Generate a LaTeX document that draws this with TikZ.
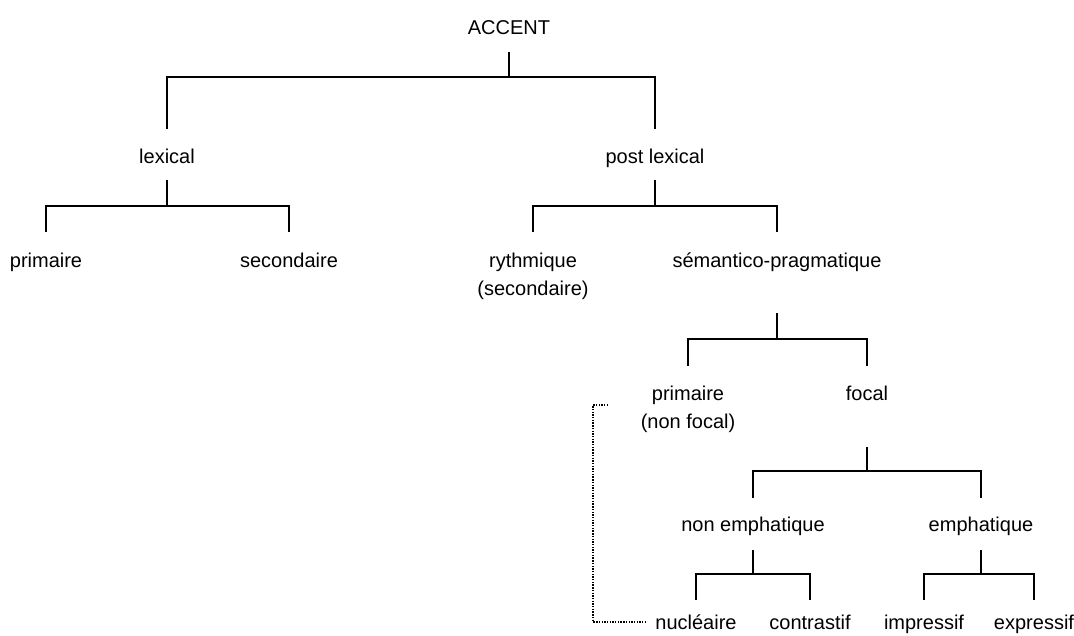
\documentclass[tikz,border=0pt]{standalone}
\usepackage{fontspec}
\setmainfont{Liberation Sans}
\usepackage{tikz}

\begin{document}
\begin{tikzpicture}[x=1pt,y=-1pt]
   \tikzstyle{label}=[font=\fontsize{20}{28}\selectfont,inner sep=0pt,anchor=base,align=center]
   \tikzstyle{branch}=[line width=1.8pt]
   \tikzstyle{dotline}=[line width=1.6pt,dash pattern=on 1.4pt off 1.3pt]
   \useasboundingbox (0,0) rectangle (1074,635);

   \node[label] (accent) at (509,34) {ACCENT};
   \node[label] (lex) at (167,163) {lexical};
   \node[label] (post) at (655,163) {post lexical};
   \node[label] (prim) at (46,267) {primaire};
   \node[label] (sec) at (289,267) {secondaire};
   \node[label] (ryth) at (533,295) {rythmique\\(secondaire)};
   \node[label] (sem) at (777,267) {sémantico-pragmatique};
   \node[label] (nf) at (688,428) {primaire\\(non focal)};
   \node[label] (focal) at (867,400) {focal};
   \node[label] (nonemph) at (753,531) {non emphatique};
   \node[label] (emph) at (981,531) {emphatique};
   \node[label] (nuc) at (696,629) {nucléaire};
   \node[label] (contr) at (810,629) {contrastif};
   \node[label] (impr) at (924,629) {impressif};
   \node[label] (expr) at (1034,629) {expressif};
   \coordinate (nftick) at (608,405);

   % tree
   \draw[branch] ([yshift=-18pt]accent.base) -- ++(0,25) -| ([yshift=34pt]lex.base);
   \draw[branch] ([yshift=-18pt]accent.base) -- ++(0,25) -| ([yshift=34pt]post.base);
   \draw[branch] ([yshift=-17pt]lex.base) -- ++(0,26) -| ([yshift=35pt]prim.base);
   \draw[branch] ([yshift=-17pt]lex.base) -- ++(0,26) -| ([yshift=35pt]sec.base);
   \draw[branch] ([yshift=-17pt]post.base) -- ++(0,26) -| ([yshift=63pt]ryth.base);
   \draw[branch] ([yshift=-17pt]post.base) -- ++(0,26) -| ([yshift=35pt]sem.base);
   \draw[branch] ([yshift=-46pt]sem.base) -- ++(0,26) -| ([yshift=62pt]nf.base);
   \draw[branch] ([yshift=-46pt]sem.base) -- ++(0,26) -| ([yshift=34pt]focal.base);
   \draw[branch] ([yshift=-47pt]focal.base) -- ++(0,24) -| ([yshift=33pt]nonemph.base);
   \draw[branch] ([yshift=-47pt]focal.base) -- ++(0,24) -| ([yshift=33pt]emph.base);
   \draw[branch] ([yshift=-19pt]nonemph.base) -- ++(0,24) -| ([yshift=29pt]nuc.base);
   \draw[branch] ([yshift=-19pt]nonemph.base) -- ++(0,24) -| ([yshift=29pt]contr.base);
   \draw[branch] ([yshift=-19pt]emph.base) -- ++(0,24) -| ([yshift=29pt]impr.base);
   \draw[branch] ([yshift=-19pt]emph.base) -- ++(0,24) -| ([yshift=29pt]expr.base);

   % dotted link
   \draw[dotline, shorten >=9pt] (nftick) -- ++(-15,0) |- (nuc.west);
\end{tikzpicture}
\end{document}
